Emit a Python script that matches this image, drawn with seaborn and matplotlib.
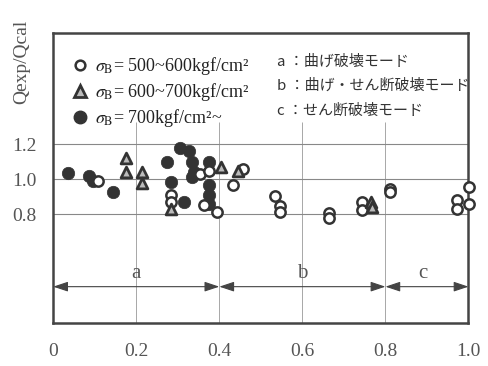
import matplotlib
matplotlib.use("Agg")
import matplotlib.pyplot as plt
import seaborn as sns
from matplotlib.lines import Line2D

# sigma_B = 500~600 kgf/cm2 (open circles)
open_x = [0.109, 0.283, 0.283, 0.354, 0.376, 0.362, 0.394, 0.433, 0.457, 0.535, 0.545,
          0.545, 0.663, 0.663, 0.744, 0.744, 0.812, 0.812, 0.973, 0.973, 1.002, 1.002]
open_y = [0.99, 0.91, 0.87, 1.03, 1.05, 0.855, 0.815, 0.97, 1.06, 0.905, 0.845,
          0.815, 0.81, 0.78, 0.87, 0.825, 0.945, 0.925, 0.88, 0.83, 0.955, 0.86]

# sigma_B = 600~700 kgf/cm2 (triangles)
tri_x = [0.175, 0.175, 0.214, 0.214, 0.283, 0.404, 0.444, 0.766, 0.768]
tri_y = [1.12, 1.04, 1.04, 0.98, 0.83, 1.07, 1.05, 0.87, 0.84]

# sigma_B >= 700 kgf/cm2 (filled circles)
fill_x = [0.036, 0.086, 0.097, 0.145, 0.274, 0.283, 0.314, 0.306, 0.326, 0.334,
          0.338, 0.334, 0.376, 0.374, 0.374, 0.376]
fill_y = [1.034, 1.02, 0.99, 0.93, 1.10, 0.985, 0.87, 1.18, 1.16, 1.10,
          1.04, 1.015, 1.10, 0.97, 0.91, 0.86]

# failure mode ranges
mode_labels = ["a", "b", "c"]
mode_edges = [0.0, 0.4, 0.8, 1.0]
mode_notes = ["a ：曲げ破壊モード", "b ：曲げ・せん断破壊モード", "c ：せん断破壊モード"]

xticks = [0, 0.2, 0.4, 0.6, 0.8, 1.0]
xtick_labels = ["0", "0.2", "0.4", "0.6", "0.8", "1.0"]
yticks = [0.6, 0.8, 1.0, 1.2, 1.4, 1.6]
ytick_labels = ["", "0.8", "1.0", "1.2", "", ""]

sns.set_style("white")
plt.rcParams["font.family"] = ["Liberation Serif", "DejaVu Serif"]
plt.rcParams["mathtext.fontset"] = "stix"

ink = "#333333"
fig = plt.figure(figsize=(4.88, 3.66), dpi=100)
ax = fig.add_axes([0.109, 0.117, 0.851, 0.792])

ax.set_xlim(0, 1.0)
ax.set_ylim(0.177, 1.836)

# grid
for gx in [0.2, 0.4, 0.6, 0.8]:
    ax.vlines(gx, 0.177, 1.33, color="#999999", lw=0.6, zorder=0)
for gy in [0.8, 1.0, 1.2]:
    ax.axhline(gy, color="#888888", lw=0.8, zorder=0)

sns.scatterplot(x=fill_x, y=fill_y, ax=ax, marker="o", s=80, color=ink,
                edgecolor=ink, linewidth=0.5, clip_on=False, zorder=3)
sns.scatterplot(x=open_x, y=open_y, ax=ax, marker="o", s=55, facecolor="white",
                edgecolor=ink, linewidth=1.8, clip_on=False, zorder=4)
sns.scatterplot(x=tri_x, y=tri_y, ax=ax, marker="^", s=60, facecolor="#bbbbbb",
                edgecolor=ink, linewidth=2.0, clip_on=False, zorder=5)

# mode arrows
arrow_y = 0.386
for lab, x0, x1 in zip(mode_labels, mode_edges[:-1], mode_edges[1:]):
    ax.annotate("", xy=(x0, arrow_y), xytext=(x1, arrow_y),
                arrowprops=dict(arrowstyle="<|-|>,head_length=0.9,head_width=0.3",
                                color="#444444", lw=0.8, shrinkA=0, shrinkB=0))
    ax.text((x0 + x1) / 2 if lab != "c" else 0.89, 0.46, lab, ha="center",
            va="center", fontsize=15, color="#555555")

# legend
handles = [
    Line2D([], [], ls="", marker="o", ms=7, mfc="white", mec=ink, mew=1.8),
    Line2D([], [], ls="", marker="^", ms=8, mfc="#bbbbbb", mec=ink, mew=2.0),
    Line2D([], [], ls="", marker="o", ms=9, mfc=ink, mec=ink),
]
labels = [r"$\sigma_{\rm B}$= 500~600kgf/cm²",
          r"$\sigma_{\rm B}$= 600~700kgf/cm²",
          r"$\sigma_{\rm B}$= 700kgf/cm²~"]
leg = ax.legend(handles, labels, loc="upper left", bbox_to_anchor=(0.025, 0.95),
                frameon=False, fontsize=13, handletextpad=0.35, labelspacing=0.22,
                handlelength=1.0, borderaxespad=0)
for t in leg.get_texts():
    t.set_color("#222222")

for i, note in enumerate(mode_notes):
    ax.text(0.538, 0.902 - i * 0.084, note, transform=ax.transAxes, fontsize=10.8,
            va="center", ha="left", color="#333333",
            family=["Noto Sans CJK JP", "DejaVu Sans"])

ax.set_xticks(xticks)
ax.set_xticklabels(xtick_labels)
ax.set_yticks(yticks)
ax.set_yticklabels(ytick_labels)
ax.tick_params(direction="in", length=4, width=1.2, color="#444444",
               labelsize=14, labelcolor="#555555")
ax.tick_params(axis="x", pad=14)
ax.tick_params(axis="y", pad=12)
for sp in ax.spines.values():
    sp.set_color("#444444")
    sp.set_linewidth(1.8)

fig.text(0.045, 0.83, "Qexp/Qcal", rotation=90, ha="center", va="center",
         fontsize=14, color="#555555")

fig.savefig("out.png", dpi=100)
